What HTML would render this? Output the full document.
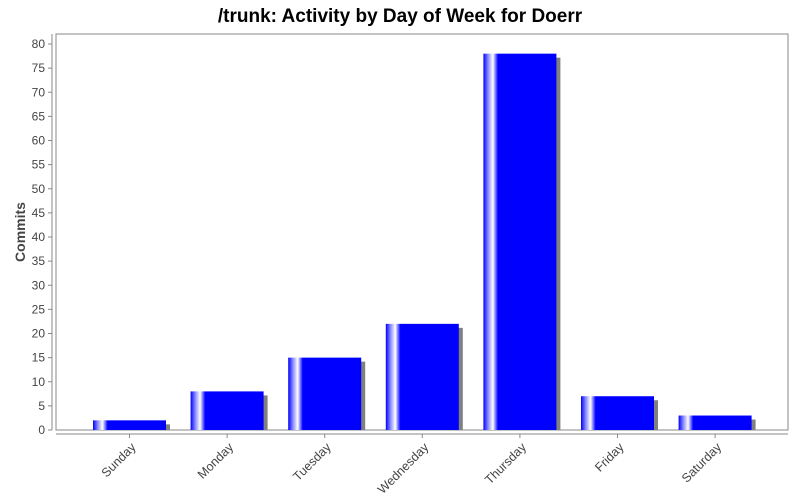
<!DOCTYPE html>
<html><head><meta charset="utf-8"><style>
body{margin:0;background:#fff;}
svg{display:block;font-family:"Liberation Sans","DejaVu Sans",sans-serif;}
</style></head><body>
<svg id="chart" width="800" height="500">
<defs>
<linearGradient id="barg" x1="0" x2="1" y1="0" y2="0">
<stop offset="0" stop-color="#0000ff"/>
<stop offset="0.06" stop-color="#8080ff"/>
<stop offset="0.13" stop-color="#ffffff"/>
<stop offset="0.2" stop-color="#0000ff"/>
<stop offset="1" stop-color="#0000ff"/>
</linearGradient>
</defs>
<text x="400" y="22" text-anchor="middle" font-size="19" font-weight="bold" fill="#000">/trunk: Activity by Day of Week for Doerr</text>
<rect x="56" y="34" width="732" height="396" fill="#fff" stroke="#888"/>
<line x1="52" y1="34" x2="52" y2="430" stroke="#888"/>
<line x1="56" y1="434" x2="788" y2="434" stroke="#888"/>
<text transform="translate(25,232) rotate(-90)" text-anchor="middle" font-size="14" font-weight="bold" fill="#444">Commits</text>
<g id="yticks"></g>
<g id="bars"></g>
<g id="xticks"></g>
</svg>
<script>
const categories=["Sunday","Monday","Tuesday","Wednesday","Thursday","Friday","Saturday"];
const values=[2,8,15,22,78,7,3];
const yTicks=[0,5,10,15,20,25,30,35,40,45,50,55,60,65,70,75,80];
const NS="http://www.w3.org/2000/svg";
function y(v){return 430-v*(386/80);}
function xBand(i){return 93+i*97.6;}
const bw=73;
const yt=document.getElementById('yticks');
yTicks.forEach(t=>{
  const l=document.createElementNS(NS,'line');
  l.setAttribute('x1',48);l.setAttribute('x2',52);l.setAttribute('y1',y(t));l.setAttribute('y2',y(t));l.setAttribute('stroke','#888');
  
  
  yt.appendChild(l);
  const tx=document.createElementNS(NS,'text');
  tx.setAttribute('x',45);tx.setAttribute('y',y(t)+4);tx.setAttribute('text-anchor','end');tx.setAttribute('font-size','12');tx.setAttribute('fill','#444');
  tx.textContent=t;
  
  
  yt.appendChild(tx);
});
const bg=document.getElementById('bars'),xg=document.getElementById('xticks');
categories.forEach((c,i)=>{
  const x=xBand(i),top=y(values[i]);
  const s=document.createElementNS(NS,'rect');
  s.setAttribute('x',x+4);s.setAttribute('y',top+4);s.setAttribute('width',bw);s.setAttribute('height',Math.max(0,430-top-4));s.setAttribute('fill','#808080');
  
  
  bg.appendChild(s);
  const r=document.createElementNS(NS,'rect');
  r.setAttribute('x',x);r.setAttribute('y',top);r.setAttribute('width',bw);r.setAttribute('height',430-top);r.setAttribute('fill','url(#barg)');
  
  
  bg.appendChild(r);
  const cx=x+bw/2;
  const l=document.createElementNS(NS,'line');
  l.setAttribute('x1',cx);l.setAttribute('x2',cx);l.setAttribute('y1',434);l.setAttribute('y2',438);l.setAttribute('stroke','#888');
  
  
  xg.appendChild(l);
  const t=document.createElementNS(NS,'text');
  t.setAttribute('transform','translate('+(cx+7)+',448) rotate(-45)');
  t.setAttribute('text-anchor','end');t.setAttribute('font-size','12.5');t.setAttribute('fill','#444');
  t.textContent=c;
  
  
  xg.appendChild(t);
});
</script>
</body></html>
